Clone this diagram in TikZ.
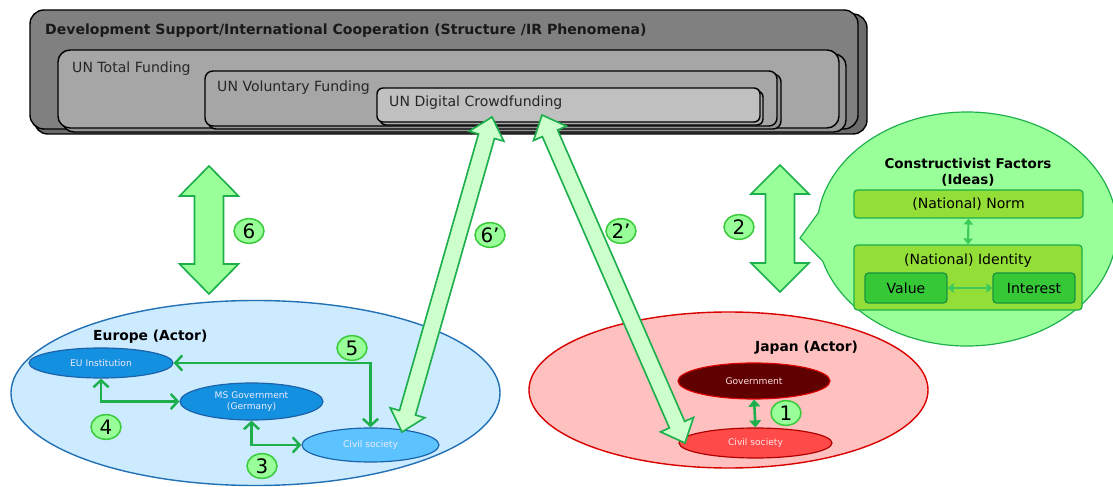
\documentclass[tikz,border=0pt]{standalone}
\usepackage{fontspec}
\setmainfont{DejaVu Sans}
\usetikzlibrary{calc,shapes.geometric,shapes.callouts,arrows.meta}
\definecolor{outerF}{HTML}{808080}
\definecolor{outerB}{HTML}{6C6C6C}
\definecolor{midF}{HTML}{A6A6A6}
\definecolor{midB}{HTML}{959595}
\definecolor{innF}{HTML}{C0C0C0}
\definecolor{innB}{HTML}{ABABAB}
\definecolor{gline}{HTML}{1DAF4C}
\definecolor{gfill}{HTML}{99FF99}
\definecolor{gpale}{HTML}{CCFFCC}
\definecolor{lblline}{HTML}{3CCB3C}
\definecolor{eufill}{HTML}{CCEBFF}
\definecolor{euline}{HTML}{2371B5}
\definecolor{eublue}{HTML}{1490E0}
\definecolor{eulight}{HTML}{5CC3FF}
\definecolor{eudark}{HTML}{1C62A8}
\definecolor{jpfill}{HTML}{FFC0C0}
\definecolor{jpline}{HTML}{D90000}
\definecolor{jpdark}{HTML}{600000}
\definecolor{jpred}{HTML}{FF4A4A}
\definecolor{normfill}{HTML}{94DE38}
\definecolor{valfill}{HTML}{36C836}
\definecolor{inarrow}{HTML}{3CCB5B}
\newcommand{\fatdbl}[7]{%
  \coordinate (#1-a) at ($(#2)!#4!(#3)$);
  \coordinate (#1-b) at ($(#3)!#4!(#2)$);
  \draw[#7] (#2) -- ($(#1-a)!#6!90:(#3)$) -- ($(#1-a)!#5!90:(#3)$)
    -- ($(#1-b)!#5!-90:(#2)$) -- ($(#1-b)!#6!-90:(#2)$) -- (#3)
    -- ($(#1-b)!#6!90:(#2)$) -- ($(#1-b)!#5!90:(#2)$)
    -- ($(#1-a)!#5!-90:(#3)$) -- ($(#1-a)!#6!-90:(#3)$) -- cycle;
}
\tikzset{
  boxtext/.style={anchor=west, inner sep=0pt, text=black!85, font=\fontsize{12}{14}\selectfont},
  lbl/.style={ellipse, draw=lblline, fill=gfill, line width=1.3pt, minimum width=0.9cm,
    minimum height=0.74cm, inner sep=0pt, font=\fontsize{17}{17}\selectfont},
  bigarrow/.style={draw=gline, fill=gfill, line width=1.4pt, line join=miter},
  longarrow/.style={draw=gline, fill=gpale, line width=1.4pt, line join=miter},
  conn/.style={draw=gline, line width=2.1pt, {Straight Barb[length=6pt,width=13pt]}-{Straight Barb[length=6pt,width=13pt]}},
  actortext/.style={font=\bfseries\fontsize{11.8}{14}\selectfont, inner sep=0pt, anchor=west},
  small/.style={font=\fontsize{7.8}{9.5}\selectfont, align=center},
  inbox/.style={draw=gline, line width=1.1pt, rounded corners=3pt, inner sep=0pt},
  inarr/.style={draw=inarrow, line width=1.8pt, {Triangle[length=5pt,width=8pt]}-{Triangle[length=5pt,width=8pt]}},
}
\begin{document}
\begin{tikzpicture}[x=0.03cm,y=-0.03cm]
\useasboundingbox (0,0) rectangle (1113,487);
\clip (0,0) rectangle (1113,487);
% ---- top structure box
\fill[outerB, draw=black, line width=1.2pt, rounded corners=0.42cm] (34,14) rectangle (867,134);
\fill[outerF, draw=black, line width=1.2pt, rounded corners=0.42cm] (30,10) rectangle (858,129);
\node[anchor=west, inner sep=0pt, font=\bfseries\fontsize{12}{14}\selectfont, text=black!90] (title) at (45,31)
  {Development Support/International Cooperation (Structure /IR Phenomena)};
\fill[midB, draw=black, line width=1.2pt, rounded corners=0.36cm] (62,54) rectangle (846,132);
\fill[midF, draw=black, line width=1.2pt, rounded corners=0.36cm] (58,50) rectangle (839,128);
\node[boxtext] (total) at (72,69) {UN Total Funding};
\fill[midB, draw=black, line width=1.2pt, rounded corners=0.24cm] (208,74) rectangle (781,129);
\fill[midF, draw=black, line width=1.2pt, rounded corners=0.24cm] (205,71) rectangle (777,126);
\node[boxtext] (vol) at (217,88) {UN Voluntary Funding};
\fill[innB, draw=black, line width=1.2pt, rounded corners=0.18cm] (380,91) rectangle (763,125);
\fill[innF, draw=black, line width=1.2pt, rounded corners=0.18cm] (377,88) rectangle (760,122);
\node[boxtext] (digital) at (389,103) {UN Digital Crowdfunding};
% ---- Europe
\node[ellipse, draw=euline, fill=eufill, line width=1.2pt, minimum width=14.67cm, minimum height=5.55cm, inner sep=0pt] (europe) at (255.5,393) {};
\node[actortext] (eutitle) at (93,337) {Europe (Actor)};
\node[ellipse, draw=eudark, fill=eublue, line width=1pt, minimum width=4.32cm, minimum height=0.9cm, inner sep=0pt, small, text=white!92!blue] (eui) at (101,363) {EU Institution};
\node[ellipse, draw=eudark, fill=eublue, line width=1pt, minimum width=4.29cm, minimum height=1.11cm, inner sep=0pt, small, text=white!92!blue] (msg) at (251.5,401.5) {MS Government\\(Germany)};
\node[ellipse, draw=eudark, fill=eulight, line width=1pt, minimum width=4.11cm, minimum height=1.02cm, inner sep=0pt, small, text=white!92!blue] (ecs) at (370.5,445) {Civil society};
\draw[conn] (eui.east) -| (ecs.north);
\draw[conn] (eui.south) |- (msg.west);
\draw[conn] (msg.south) |- (ecs.west);
\node[lbl] (l5) at (352,348) {5};
\node[lbl] (l4) at (106,427) {4};
\node[lbl] (l3) at (262,466) {3};
% ---- Japan
\node[ellipse, draw=jpline, fill=jpfill, line width=1.2pt, minimum width=11.97cm, minimum height=4.68cm, inner sep=0pt] (japan) at (728.5,390) {};
\node[actortext] (jptitle) at (755,348) {Japan (Actor)};
\node[ellipse, draw=jpline, fill=jpdark, line width=1pt, minimum width=4.56cm, minimum height=1.08cm, inner sep=0pt, small, text=white!88!red] (gov) at (754,381) {Government};
\node[ellipse, draw=jpline!80!black, fill=jpred, line width=1pt, minimum width=4.59cm, minimum height=0.9cm, inner sep=0pt, small, text=white!90!red] (jcs) at (755.5,443) {Civil society};
\draw[draw=gline, line width=2.2pt, {Triangle[length=6pt,width=10pt]}-{Triangle[length=6pt,width=10pt]}] (gov.south) -- (jcs.north);
\node[lbl] (l1) at (786,413) {1};
% ---- callout
\node[ellipse callout, draw=gline, fill=gfill, line width=1pt, minimum width=9cm, minimum height=7.02cm,
  callout absolute pointer={(800,238)}, callout pointer arc=24, inner sep=0pt] (callout) at (967,229) {};
\node[font=\bfseries\fontsize{11.5}{13.5}\selectfont, align=center, inner sep=0pt] (cf) at (968,172) {Constructivist Factors\\(Ideas)};
\node[inbox, fill=normfill, minimum width=6.87cm, minimum height=0.84cm, font=\fontsize{12}{14}\selectfont] (norm) at (968.5,204) {(National) Norm};
\node[inbox, fill=normfill, minimum width=6.84cm, minimum height=1.95cm] (ident) at (968,277.5) {};
\node[inner sep=0pt, font=\fontsize{12}{14}\selectfont] (identt) at (968,261) {(National) Identity};
\node[inbox, fill=valfill, draw=gline!85!black, minimum width=2.46cm, minimum height=0.9cm, font=\fontsize{12}{14}\selectfont] (value) at (906,288) {Value};
\node[inbox, fill=valfill, draw=gline!85!black, minimum width=2.46cm, minimum height=0.9cm, font=\fontsize{12}{14}\selectfont] (interest) at (1034,288) {Interest};
\draw[inarr] (norm.south) -- (ident.north);
\draw[inarr] (value.east) -- (interest.west);
% ---- big arrows
\coordinate (v6t) at (209,166); \coordinate (v6b) at (209,294);
\coordinate (v2t) at (780,165); \coordinate (v2b) at (780,292);
\fatdbl{a6}{v6t}{v6b}{0.9cm}{0.435cm}{0.885cm}{bigarrow}
\fatdbl{a2}{v2t}{v2b}{0.87cm}{0.435cm}{0.87cm}{bigarrow}
\node[lbl] (l6) at (249,231) {6};
\node[lbl] (l2) at (739,227) {2};
\coordinate (p6t) at (492,117); \coordinate (p6b) at (402,432);
\coordinate (p2t) at (542,115); \coordinate (p2b) at (685,443);
\fatdbl{a6p}{p6t}{p6b}{0.6cm}{0.25cm}{0.54cm}{longarrow}
\fatdbl{a2p}{p2t}{p2b}{0.6cm}{0.25cm}{0.54cm}{longarrow}
\node[lbl] (l6p) at (490,235) {6'};
\node[lbl] (l2p) at (621,231) {2'};
\end{tikzpicture}
\end{document}
